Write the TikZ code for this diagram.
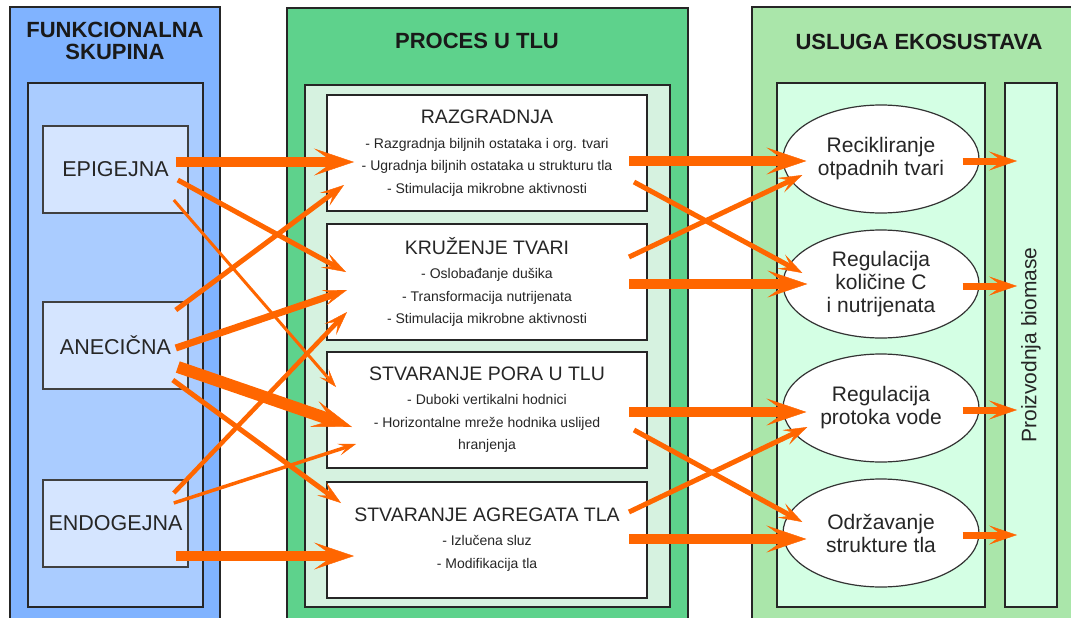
\documentclass[tikz,border=0pt]{standalone}
\usepackage{fontspec}
\setmainfont{Liberation Sans}
\usetikzlibrary{arrows.meta,shapes.geometric}

\definecolor{skupinaOut}{HTML}{80B3FF}
\definecolor{skupinaIn}{HTML}{AACCFF}
\definecolor{skupinaBox}{HTML}{D5E5FF}
\definecolor{procesOut}{HTML}{5ED28C}
\definecolor{procesIn}{HTML}{D6F2E0}
\definecolor{uslugaOut}{HTML}{AAE6AA}
\definecolor{uslugaIn}{HTML}{D4FFE4}
\definecolor{tokOrange}{HTML}{FF6600}

\tikzset{
  panel/.style={draw=black!85,line width=2pt},
  naslov/.style={font=\bfseries\fontsize{22}{22}\selectfont,align=center,text=black!90},
  grpbox/.style={draw=black!75,line width=1.6pt,fill=skupinaBox,minimum width=145pt,minimum height=87pt,
    font=\fontsize{21.5}{24}\selectfont,text=black!85},
  procbox/.style={draw=black!85,line width=2pt,fill=white,minimum width=320pt,minimum height=116pt,
    align=center,font=\fontsize{14}{22.5}\selectfont,text=black!85},
  uslbox/.style={ellipse,draw=black!80,line width=1.2pt,fill=white,minimum width=196pt,minimum height=108pt,
    inner sep=0pt,align=center,font=\fontsize{21}{23}\selectfont,text=black!85},
  tokdeb/.style={draw=tokOrange,line width=10pt,-{Stealth[length=40pt,width=27pt,inset=19pt,line width=0.4pt]}},
  toksre/.style={draw=tokOrange,line width=5pt,-{Stealth[length=24pt,width=16pt,inset=11pt,line width=0.4pt]}},
  toktan/.style={draw=tokOrange,line width=3pt,-{Stealth[length=18pt,width=12pt,inset=8.5pt,line width=0.4pt]}},
  tokbio/.style={draw=tokOrange,line width=7pt,-{Stealth[length=28pt,width=19pt,inset=13pt,line width=0.4pt]}},
}
\newcommand{\procnaslov}[1]{{\fontsize{19.5}{22.5}\selectfont #1}\\[2pt]}

\begin{document}
\begin{tikzpicture}[x=1pt,y=-1pt]
    \useasboundingbox (0,0) rectangle (1071,618);
    \clip (0,0) rectangle (1071,618);

      % panels
      \draw[panel,fill=skupinaOut] (10,7) rectangle (220,640);
      \draw[panel,fill=skupinaIn] (28,83) rectangle (203,607);
      \draw[panel,fill=procesOut] (287,8) rectangle (688,640);
      \draw[panel,fill=procesIn] (305,85) rectangle (670,607);
      \draw[panel,fill=uslugaOut] (752,7) rectangle (1090,640);
      \draw[panel,fill=uslugaIn] (777,83) rectangle (985,607);

      \node[naslov] (n1) at (115,41) {FUNKCIONALNA\\SKUPINA};
      \node[naslov] (n2) at (477,41) {PROCES U TLU};
      \node[naslov] (n3) at (919,42) {USLUGA EKOSUSTAVA};

      \node[grpbox] (epi) at (115.5,169.5) {EPIGEJNA};
      \node[grpbox] (ane) at (115.5,345.5) {ANECIČNA};
      \node[grpbox] (endo) at (115.5,523.5) {ENDOGEJNA};

      \node[procbox] (raz) at (487,153) {\procnaslov{RAZGRADNJA}
        - Razgradnja biljnih ostataka i org. tvari\\
        - Ugradnja biljnih ostataka u strukturu tla\\
        - Stimulacija mikrobne aktivnosti};
      \node[procbox] (kru) at (487,282) {\procnaslov{KRUŽENJE TVARI}
        - Oslobađanje dušika\\
        - Transformacija nutrijenata\\
        - Stimulacija mikrobne aktivnosti};
      \node[procbox] (por) at (487,409.5) {\procnaslov{STVARANJE PORA U TLU}
        - Duboki vertikalni hodnici\\
        - Horizontalne mreže hodnika uslijed\\
        hranjenja};
      \node[procbox] (agr) at (487,539.5) {\procnaslov{STVARANJE AGREGATA TLA}
        - Izlučena sluz\\
        - Modifikacija tla};

      \node[uslbox] (rec) at (881,159) {Recikliranje\\otpadnih tvari};
      \node[uslbox] (kol) at (881,284) {Regulacija\\količine C\\i nutrijenata};
      \node[uslbox] (vod) at (881,408) {Regulacija\\protoka vode};
      \node[uslbox] (odr) at (881,533) {Održavanje\\strukture tla};

      \node[panel,fill=uslugaIn,minimum width=52pt,minimum height=524pt] (bio) at (1031,345) {};
      \node[rotate=90,font=\fontsize{21}{23}\selectfont,text=black!85] (biotxt) at (bio.center) {Proizvodnja biomase};

      % skupina -> proces
      \draw[tokdeb] ([shift={(-13,-7.5)}]epi.east) -- ([shift={(28,9)}]raz.west);
      \draw[toksre] ([shift={(-11,10.5)}]epi.east) -- ([shift={(20,-10)}]kru.west);
      \draw[toktan] ([shift={(-15,30.5)}]epi.east) -- ([shift={(10,-22.5)}]por.west);
      \draw[toksre] ([shift={(-13,-35.5)}]ane.east) -- ([shift={(18,32)}]raz.west);
      \draw[toksre,line width=7pt] ([shift={(-13,2.5)}]ane.east) -- ([shift={(21,8)}]kru.west);
      \draw[tokdeb,line width=12pt] ([shift={(-11,21.5)}]ane.east) -- ([shift={(26,17.5)}]por.west);
      \draw[toksre] ([shift={(-16,34.5)}]ane.east) -- ([shift={(15,-36.5)}]agr.west);
      \draw[toksre,line width=4.5pt] ([shift={(-15,-30.5)}]endo.east) -- ([shift={(21,30)}]kru.west);
      \draw[toktan,line width=3.5pt] ([shift={(-15,-20.5)}]endo.east) -- ([shift={(30,34.5)}]por.west);
      \draw[tokdeb] ([shift={(-13,32.5)}]endo.east) -- ([shift={(28,16.5)}]agr.west);

      % proces -> usluga
      \draw[tokdeb] ([shift={(-19,8)}]raz.east) -- ([shift={(24,2)}]rec.west);
      \draw[toksre] ([shift={(-14,29)}]raz.east) -- ([shift={(20,-11)}]kol.west);
      \draw[toksre] ([shift={(-19,-25)}]kru.east) -- ([shift={(20,16)}]rec.west);
      \draw[tokdeb] ([shift={(-19,2)}]kru.east) -- ([shift={(25,0)}]kol.west);
      \draw[tokdeb] ([shift={(-19,2.5)}]por.east) -- ([shift={(24,4)}]vod.west);
      \draw[toksre] ([shift={(-14,20.5)}]por.east) -- ([shift={(20,-11)}]odr.west);
      \draw[toksre] ([shift={(-19,-27.5)}]agr.east) -- ([shift={(25,19)}]vod.west);
      \draw[tokdeb] ([shift={(-19,-0.5)}]agr.east) -- ([shift={(24,6)}]odr.west);

      % usluga -> biomasa
      \draw[tokbio] ([shift={(-17,2)}]rec.east) -- ([shift={(13,-184)}]bio.west);
      \draw[tokbio] ([shift={(-17,2)}]kol.east) -- ([shift={(13,-59)}]bio.west);
      \draw[tokbio] ([shift={(-17,2)}]vod.east) -- ([shift={(13,65)}]bio.west);
      \draw[tokbio] ([shift={(-17,2)}]odr.east) -- ([shift={(13,190)}]bio.west);

\end{tikzpicture}
\end{document}
